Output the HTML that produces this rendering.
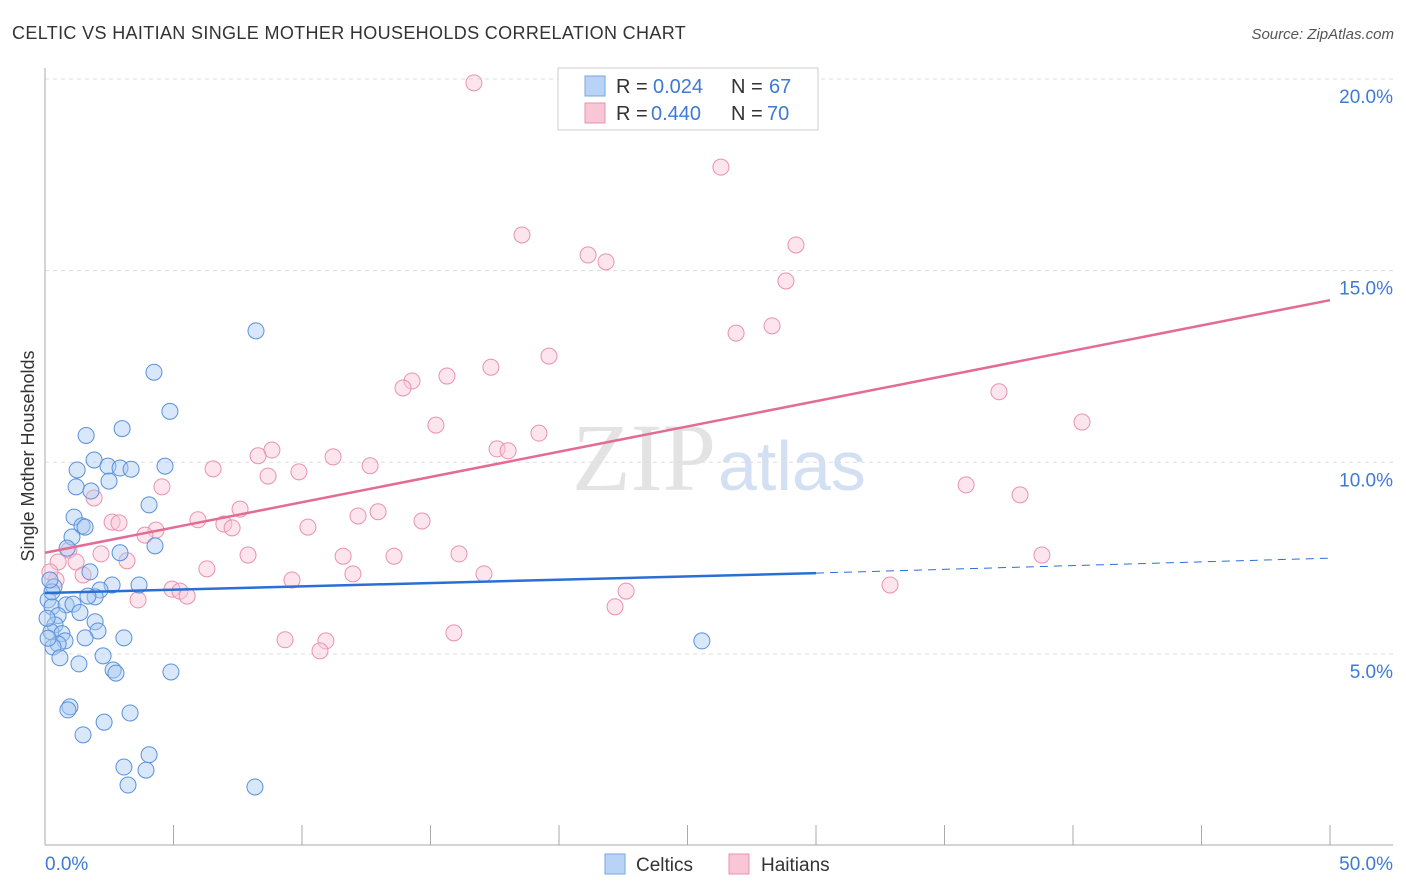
<!DOCTYPE html>
<html><head><meta charset="utf-8"><style>
body{margin:0;background:#fff;font-family:"Liberation Sans",sans-serif;}
svg{display:block}
</style></head><body>
<svg id="chart" width="1406" height="892">
<text x="12" y="39" font-size="18" fill="#333" letter-spacing="0.35">CELTIC VS HAITIAN SINGLE MOTHER HOUSEHOLDS CORRELATION CHART</text>
<text x="1394" y="39" font-size="15" fill="#555" font-style="italic" text-anchor="end">Source: ZipAtlas.com</text>
<text x="34" y="456" font-size="18" fill="#333" text-anchor="middle" transform="rotate(-90 34 456)">Single Mother Households</text>
<text x="716" y="490" font-size="96" fill="#e3e3e3" text-anchor="end" font-family="Liberation Serif,serif">ZIP</text>
<text x="718" y="490" font-size="70" fill="#d3e0f3">atlas</text>
<g id="grid"></g><g id="pts"></g><g id="lines"></g>
<g>
<rect x="558" y="68" width="260" height="62" fill="#fff" stroke="#ccc"/>
<rect x="585" y="76" width="20" height="20" fill="#b8d3f5" stroke="#7aa7e0"/>
<rect x="585" y="103" width="20" height="20" fill="#f9c6d6" stroke="#ea92ae"/>
<g font-size="20" fill="#333">
<text x="616" y="93">R =</text>
<text x="653" y="93" fill="#3d7ad6">0.024</text>
<text x="731" y="93">N =</text>
<text x="769" y="93" fill="#3d7ad6">67</text>
<text x="616" y="120">R =</text>
<text x="651" y="120" fill="#3d7ad6">0.440</text>
<text x="731" y="120">N =</text>
<text x="767" y="120" fill="#3d7ad6">70</text>
</g>
</g>
<g>
<rect x="605" y="854" width="20" height="20" fill="#b8d3f5" stroke="#7aa7e0"/>
<text x="636" y="871" font-size="19" fill="#333">Celtics</text>
<rect x="729" y="854" width="20" height="20" fill="#f9c6d6" stroke="#ea92ae"/>
<text x="761" y="871" font-size="19" fill="#333">Haitians</text>
</g>
</svg>
<script>
const yTicks=[5,10,15,20];
const xTickLabels=["0.0%","50.0%"];
const celticX=[8.21,4.24,4.86,1.60,3.00,1.91,1.25,2.45,2.92,3.35,4.67,1.21,1.79,2.49,4.05,1.13,1.44,1.56,1.05,4.28,0.86,2.92,1.75,0.35,2.61,3.66,2.14,1.95,1.67,0.12,0.27,0.82,1.09,0.51,1.36,0.39,1.95,2.06,0.23,0.66,3.07,1.56,0.78,0.51,0.31,2.26,0.58,1.32,2.65,2.76,4.90,25.56,0.97,0.89,3.31,2.30,1.48,4.05,3.07,3.93,3.23,8.17,0.27,0.19,0.08,0.12];
const celticY=[13.43,12.35,11.33,10.70,10.88,10.06,9.80,9.90,9.85,9.82,9.90,9.36,9.25,9.51,8.89,8.57,8.34,8.31,8.05,7.82,7.76,7.64,7.14,6.75,6.80,6.80,6.67,6.49,6.51,6.41,6.23,6.28,6.30,6.00,6.08,5.76,5.84,5.60,5.58,5.53,5.42,5.42,5.34,5.26,5.18,4.95,4.90,4.74,4.58,4.50,4.53,5.34,3.62,3.54,3.46,3.22,2.89,2.37,2.05,1.97,1.58,1.53,6.62,6.93,5.93,5.41];
const haitianX=[16.69,26.30,18.56,21.13,21.83,29.22,28.83,26.89,28.29,19.61,17.35,15.64,14.28,13.93,37.12,40.35,15.21,19.22,8.83,17.59,18.02,8.29,11.21,6.54,12.65,8.68,9.88,4.55,35.84,37.94,1.91,7.59,12.96,12.18,5.95,10.23,14.67,6.96,7.28,2.61,2.88,4.32,3.89,0.93,7.90,2.18,11.60,13.58,16.11,3.19,38.79,0.51,1.21,6.30,11.98,17.08,1.48,9.61,32.88,4.94,5.25,5.53,22.61,3.62,22.18,15.91,9.34,10.93,10.70,0.43,0.19];
const haitianY=[19.90,17.70,15.93,15.41,15.23,15.67,14.73,13.37,13.56,12.77,12.48,12.25,12.12,11.94,11.84,11.05,10.97,10.76,10.32,10.35,10.30,10.17,10.14,9.83,9.91,9.64,9.75,9.36,9.41,9.15,9.07,8.78,8.71,8.60,8.50,8.31,8.47,8.39,8.29,8.44,8.42,8.23,8.10,7.71,7.58,7.61,7.55,7.55,7.61,7.43,7.58,7.40,7.40,7.22,7.09,7.09,7.06,6.93,6.80,6.69,6.64,6.51,6.64,6.41,6.23,5.55,5.37,5.34,5.08,6.93,7.14];
const celticTrend=[6.59,7.11,7.50];
const haitianTrend=[7.64,14.23];
const NS="http://www.w3.org/2000/svg";
const X=v=>45+v*25.7, Y=v=>845.6-v*38.33;
function mk(t,a,p){const e=document.createElementNS(NS,t);for(const k in a)e.setAttribute(k,a[k]);p.appendChild(e);return e;}
const grid=document.getElementById('grid');
yTicks.forEach(t=>{
 const l=mk('line',{x1:45,x2:1393,y1:Y(t),y2:Y(t),stroke:'#ddd','stroke-dasharray':'4,4'},grid);
 
 
 const tx=mk('text',{x:1393,y:Y(t)+24,'font-size':19,fill:'#3d7ad6','text-anchor':'end'},grid);tx.textContent=t.toFixed(1)+'%';
 
 
});
mk('line',{x1:45,x2:45,y1:68,y2:845,stroke:'#aaa'},grid);
mk('line',{x1:45,x2:1393,y1:845,y2:845,stroke:'#aaa'},grid);
for(let i=0;i<=10;i++){const t=mk('line',{x1:X(i*5),x2:X(i*5),y1:825,y2:845,stroke:'#aaa'},grid);
 
 }
[['start',45],['end',1393]].forEach((d,i)=>{const t=mk('text',{x:d[1],y:870,'font-size':19,fill:'#3d7ad6','text-anchor':d[0]},grid);t.textContent=xTickLabels[i];
 
 });
const pts=document.getElementById('pts');
function dots(xs,ys,fill,stroke,name){xs.forEach((x,i)=>{const c=mk('circle',{cx:X(x),cy:Y(ys[i]),r:8,fill:fill,'fill-opacity':0.45,stroke:stroke,'stroke-width':1},pts);
 
 });}
dots(haitianX,haitianY,'#f9c6d6','#ea92ae','haitian-point');
dots(celticX,celticY,'#a9c9f2','#5a90dc','celtic-point');
const lines=document.getElementById('lines');
const b1=mk('line',{x1:X(0),y1:Y(celticTrend[0]),x2:X(30),y2:Y(celticTrend[1]),stroke:'#2a6fd6','stroke-width':2.5},lines);


const b2=mk('line',{x1:X(30),y1:Y(celticTrend[1]),x2:X(50),y2:Y(celticTrend[2]),stroke:'#2a6fd6','stroke-width':1,'stroke-dasharray':'8,6'},lines);


const p1=mk('line',{x1:X(0),y1:Y(haitianTrend[0]),x2:X(50),y2:Y(haitianTrend[1]),stroke:'#e36b95','stroke-width':2.5},lines);


</script>
</body></html>
